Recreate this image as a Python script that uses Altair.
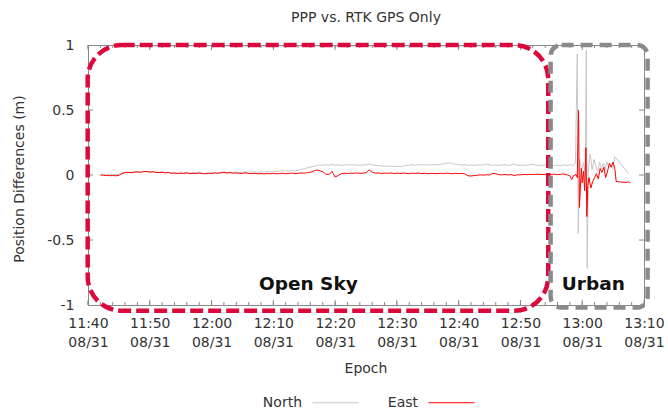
import altair as alt
import pandas as pd

# ---------------------------------------------------------------------------
# Position differences PPP vs. RTK (GPS only), metres
# Open-sky part sampled every 30 s starting 11:42
# ---------------------------------------------------------------------------
open_start = "2020-08-31 11:42:00"

east_open = [
    0.000, -0.002, -0.004, -0.005, -0.004, -0.006, -0.003, 0.012, 0.018, 0.020,
    0.017, 0.022, 0.024, 0.020, 0.028, 0.026, 0.022, 0.025, 0.020, 0.018,
    0.021, 0.016, 0.019, 0.013, 0.015, 0.011, 0.014, 0.012, 0.016, 0.010,
    0.013, 0.012, 0.015, 0.011, 0.009, 0.014, 0.012, 0.016, 0.013, 0.017,
    0.020, 0.015, 0.018, 0.014, 0.016, 0.012, 0.013, 0.017, 0.012, 0.010,
    0.013, 0.009, 0.011, 0.008, 0.012, 0.010, 0.013, 0.009, 0.011, 0.014,
    0.010, 0.012, 0.015, 0.011, 0.013, 0.016, 0.014, 0.018, 0.022, 0.030,
    0.038, 0.033, 0.026, 0.006, 0.004, 0.028, -0.016, -0.004, 0.010, 0.014,
    0.011, 0.015, 0.012, 0.016, 0.013, 0.014, 0.017, 0.040, 0.022, 0.014,
    0.016, 0.012, 0.015, 0.013, 0.016, 0.011, 0.014, 0.012, 0.015, 0.013,
    0.010, 0.014, 0.012, 0.015, 0.011, 0.013, 0.010, 0.012, 0.012, 0.010,
    0.013, 0.011, 0.014, 0.012, 0.010, 0.013, 0.011, 0.012, 0.009, -0.006,
    -0.008, -0.004, -0.002, 0.001, -0.001, 0.002, 0.000, 0.012, 0.010, 0.003,
    0.001, 0.004, 0.000, 0.003, -0.004, 0.002, 0.001, 0.004, 0.003, 0.005,
    0.004, 0.006, 0.005, 0.004, 0.005,
]

north_open = [
    0.004, 0.006, 0.003, 0.002, 0.005, 0.003, 0.006, 0.014, 0.019, 0.023,
    0.021, 0.025, 0.022, 0.026, 0.024, 0.028, 0.023, 0.027, 0.022, 0.021,
    0.024, 0.019, 0.021, 0.017, 0.019, 0.015, 0.018, 0.016, 0.019, 0.014,
    0.017, 0.015, 0.018, 0.014, 0.013, 0.017, 0.015, 0.019, 0.016, 0.020,
    0.023, 0.019, 0.022, 0.020, 0.023, 0.019, 0.021, 0.024, 0.020, 0.022,
    0.025, 0.021, 0.024, 0.022, 0.027, 0.025, 0.029, 0.026, 0.030, 0.033,
    0.029, 0.032, 0.035, 0.031, 0.036, 0.042, 0.048, 0.055, 0.061, 0.066,
    0.072, 0.078, 0.074, 0.079, 0.076, 0.081, 0.075, 0.078, 0.073, 0.077,
    0.080, 0.076, 0.079, 0.074, 0.078, 0.075, 0.079, 0.083, 0.077, 0.074,
    0.072, 0.070, 0.068, 0.066, 0.069, 0.065, 0.067, 0.064, 0.068, 0.072,
    0.076, 0.079, 0.075, 0.081, 0.078, 0.076, 0.080, 0.077, 0.082, 0.078,
    0.081, 0.086, 0.090, 0.094, 0.088, 0.083, 0.079, 0.076, 0.080, 0.074,
    0.077, 0.073, 0.078, 0.075, 0.079, 0.084, 0.078, 0.074, 0.077, 0.073,
    0.076, 0.079, 0.074, 0.077, 0.081, 0.076, 0.073, 0.077, 0.074, 0.078,
    0.082, 0.077, 0.073, 0.076, 0.078,
]

# Urban part: irregular epochs, minutes after 11:40
east_urban_min = [
    74.5, 75.0, 75.5, 76.0, 76.5, 77.0, 77.5, 78.0, 78.3, 78.6,
    79.0, 79.2, 79.4, 79.55, 79.7, 79.85, 80.0, 80.2, 80.4, 80.6,
    80.75, 80.9, 81.1, 81.4, 81.7, 82.0, 82.3, 82.6, 82.9, 83.2,
    83.5, 83.8, 84.1, 84.4, 84.7, 85.0, 85.3, 85.5, 86.0, 86.5,
    87.0, 87.5, 87.8,
]
east_urban = [
    0.006, 0.004, 0.007, 0.003, 0.005, 0.008, 0.002, -0.006, -0.035, -0.005,
    0.004, -0.020, 0.500, -0.250, -0.100, 0.050, -0.060, 0.030, -0.120, 0.210,
    -0.320, -0.080, -0.020, -0.100, -0.050, -0.020, 0.010, -0.030, 0.050, 0.020,
    0.060, -0.020, 0.030, 0.090, 0.060, 0.100, 0.040, -0.050, -0.052, -0.055,
    -0.058, -0.053, -0.060,
]

north_urban_min = [
    74.5, 75.0, 75.5, 76.0, 76.5, 77.0, 77.5, 78.0, 78.5, 78.9,
    79.2, 79.35, 79.6, 79.9, 80.2, 80.5, 80.65, 80.8, 81.0, 81.3,
    81.6, 81.9, 82.2, 82.5, 82.8, 83.1, 83.4, 83.7, 84.0, 84.3,
    84.6, 84.9, 85.3, 87.5,
]
north_urban = [
    0.075, 0.079, 0.072, 0.077, 0.070, 0.078, 0.074, 0.080, 0.072, 0.090,
    0.930, -0.450, 0.120, 0.030, 0.100, 0.000, 0.960, -0.720, 0.050, 0.160,
    0.040, 0.120, 0.070, 0.030, 0.100, 0.050, 0.090, 0.040, 0.100, 0.060,
    0.080, 0.050, 0.140, 0.010,
]

series_names = ["North", "East"]
series_colors = ["#c8c8c8", "#ff0000"]

# Highlighted segments of the drive
region_names = ["Open Sky", "Urban"]
region_start = ["2020-08-31T11:39:57", "2020-08-31T12:54:53"]
region_end = ["2020-08-31T12:54:30", "2020-08-31T13:10:35"]
region_top = [1.0, 1.0]
region_bottom = [-1.044, -1.02]
region_label_time = ["2020-08-31T12:15:40", "2020-08-31T13:01:48"]
region_label_value = [-0.887, -0.887]

x_tick_minutes = [(11, 40), (11, 50), (12, 0), (12, 10), (12, 20), (12, 30),
                  (12, 40), (12, 50), (13, 0), (13, 10)]
y_tick_values = [-1, -0.5, 0, 0.5, 1]
y_inner_ticks = [-0.5, 0, 0.5]

# ---------------------------------------------------------------------------
base = pd.Timestamp("2020-08-31 11:40:00")


def frame(times, values, name):
    return pd.DataFrame({"time": times, "value": values, "series": name})


open_times_e = pd.date_range(open_start, periods=len(east_open), freq="30s")
open_times_n = pd.date_range(open_start, periods=len(north_open), freq="30s")
urban_times_e = base + pd.to_timedelta(east_urban_min, unit="min")
urban_times_n = base + pd.to_timedelta(north_urban_min, unit="min")

data = pd.concat([
    frame(open_times_n, north_open, "North"),
    frame(urban_times_n, north_urban, "North"),
    frame(open_times_e, east_open, "East"),
    frame(urban_times_e, east_urban, "East"),
], ignore_index=True)
data["time"] = data["time"].dt.strftime("%Y-%m-%dT%H:%M:%S")

regions = pd.DataFrame({
    "name": region_names, "start": region_start, "end": region_end,
    "top": region_top, "bottom": region_bottom,
    "lt": region_label_time, "lv": region_label_value,
})

minor_ticks = pd.DataFrame({"t": pd.date_range("2020-08-31 11:40", "2020-08-31 13:10", freq="2min").strftime("%Y-%m-%dT%H:%M:%S")})
major_ticks = pd.DataFrame({"t": pd.date_range("2020-08-31 11:40", "2020-08-31 13:10", freq="10min").strftime("%Y-%m-%dT%H:%M:%S")})
y_ticks = pd.DataFrame({"v": y_inner_ticks})

FONT = "DejaVu Sans"
TXT = "#333333"
W, H = 556, 260


def dt(h, m):
    return alt.DateTime(year=2020, month=8, date=31, hours=h, minutes=m)


x_scale = alt.Scale(domain=[dt(11, 40), dt(13, 10)], nice=False)
y_scale = alt.Scale(domain=[-1, 1], nice=False)

x_axis = alt.Axis(
    title="Epoch", grid=False, ticks=False, tickSize=0, domain=False,
    values=[dt(h, m) for h, m in x_tick_minutes],
    labelExpr="[timeFormat(datum.value, '%H:%M'), timeFormat(datum.value, '%m/%d')]",
    labelLineHeight=18.5, labelPadding=11.5, labelFlush=False, labelOverlap=False,
    labelFont=FONT, labelFontSize=14, labelColor=TXT,
    titleFont=FONT, titleFontSize=14, titleColor=TXT, titleFontWeight="normal",
    titleX=277.5, titleY=56,
)
y_axis = alt.Axis(
    title="Position Differences (m)", grid=False, ticks=False, tickSize=0, domain=False,
    values=y_tick_values, labelExpr="'' + datum.value", labelPadding=14,
    labelFont=FONT, labelFontSize=14, labelColor=TXT,
    titleFont=FONT, titleFontSize=14, titleColor=TXT, titleFontWeight="normal",
    titleX=-65, titleY=133.5, titleBaseline="alphabetic",
)

# legend: label on the left, line sample on the right
lines = alt.Chart(data).mark_line(strokeWidth=1, clip=True).encode(
    x=alt.X("time:T", scale=x_scale, axis=x_axis),
    y=alt.Y("value:Q", scale=y_scale, axis=y_axis),
    color=alt.Color(
        "series:N",
        scale=alt.Scale(domain=series_names, range=series_colors),
        legend=alt.Legend(
            title=None, orient="none", legendX=224, legendY=334,
            direction="horizontal", symbolType="stroke", symbolSize=2116,
            symbolStrokeWidth=1, labelAlign="right", labelOffset={"expr": "-57"},
            columnPadding=26, padding=0,
            labelFont=FONT, labelFontSize=14, labelColor=TXT,
        ),
    ),
    detail="series:N",
)

tick_color = "#888888"
bottom_minor = alt.Chart(minor_ticks).mark_rule(color=tick_color, strokeWidth=1).encode(
    x="t:T", y=alt.value(H), y2=alt.value(H - 3))
top_minor = alt.Chart(minor_ticks).mark_rule(color=tick_color, strokeWidth=1).encode(
    x="t:T", y=alt.value(0), y2=alt.value(3))
bottom_major = alt.Chart(major_ticks).mark_rule(color=tick_color, strokeWidth=1).encode(
    x="t:T", y=alt.value(H), y2=alt.value(H - 5))
top_major = alt.Chart(major_ticks).mark_rule(color=tick_color, strokeWidth=1).encode(
    x="t:T", y=alt.value(0), y2=alt.value(5))
left_ticks = alt.Chart(y_ticks).mark_rule(color=tick_color, strokeWidth=1).encode(
    y="v:Q", x=alt.value(0), x2=alt.value(5))
right_ticks = alt.Chart(y_ticks).mark_rule(color=tick_color, strokeWidth=1).encode(
    y="v:Q", x=alt.value(W), x2=alt.value(W - 5))

open_box = alt.Chart(regions[regions.name == "Open Sky"]).mark_rect(
    fillOpacity=0, stroke="#dc0a3c", strokeWidth=4.5, strokeDash=[13, 5], cornerRadius=34,
).encode(x="start:T", x2="end:T", y="top:Q", y2="bottom:Q")

urban_box = alt.Chart(regions[regions.name == "Urban"]).mark_rect(
    fillOpacity=0, stroke="#8a8a8a", strokeWidth=4.5, strokeDash=[12, 7], cornerRadius=11,
).encode(x="start:T", x2="end:T", y="top:Q", y2="bottom:Q")

region_text = alt.Chart(regions).mark_text(
    font=FONT, fontSize=18.5, fontWeight="bold", color="#111111",
    align="center", baseline="alphabetic",
).encode(x="lt:T", y="lv:Q", text="name:N")

chart = alt.layer(
    lines, bottom_minor, top_minor, bottom_major, top_major, left_ticks, right_ticks,
    open_box, urban_box, region_text,
).properties(
    width=W, height=H,
    title=alt.TitleParams("PPP vs. RTK GPS Only", font=FONT, fontSize=14,
                          fontWeight="normal", color=TXT, anchor="middle", offset=13),
    autosize=alt.AutoSizeParams(type="none"),
    padding={"left": 88, "top": 45, "right": 24, "bottom": 103},
).configure_view(stroke="#888888", strokeWidth=1)

chart.save("out.html", embed_options={"renderer": "svg", "actions": False})
